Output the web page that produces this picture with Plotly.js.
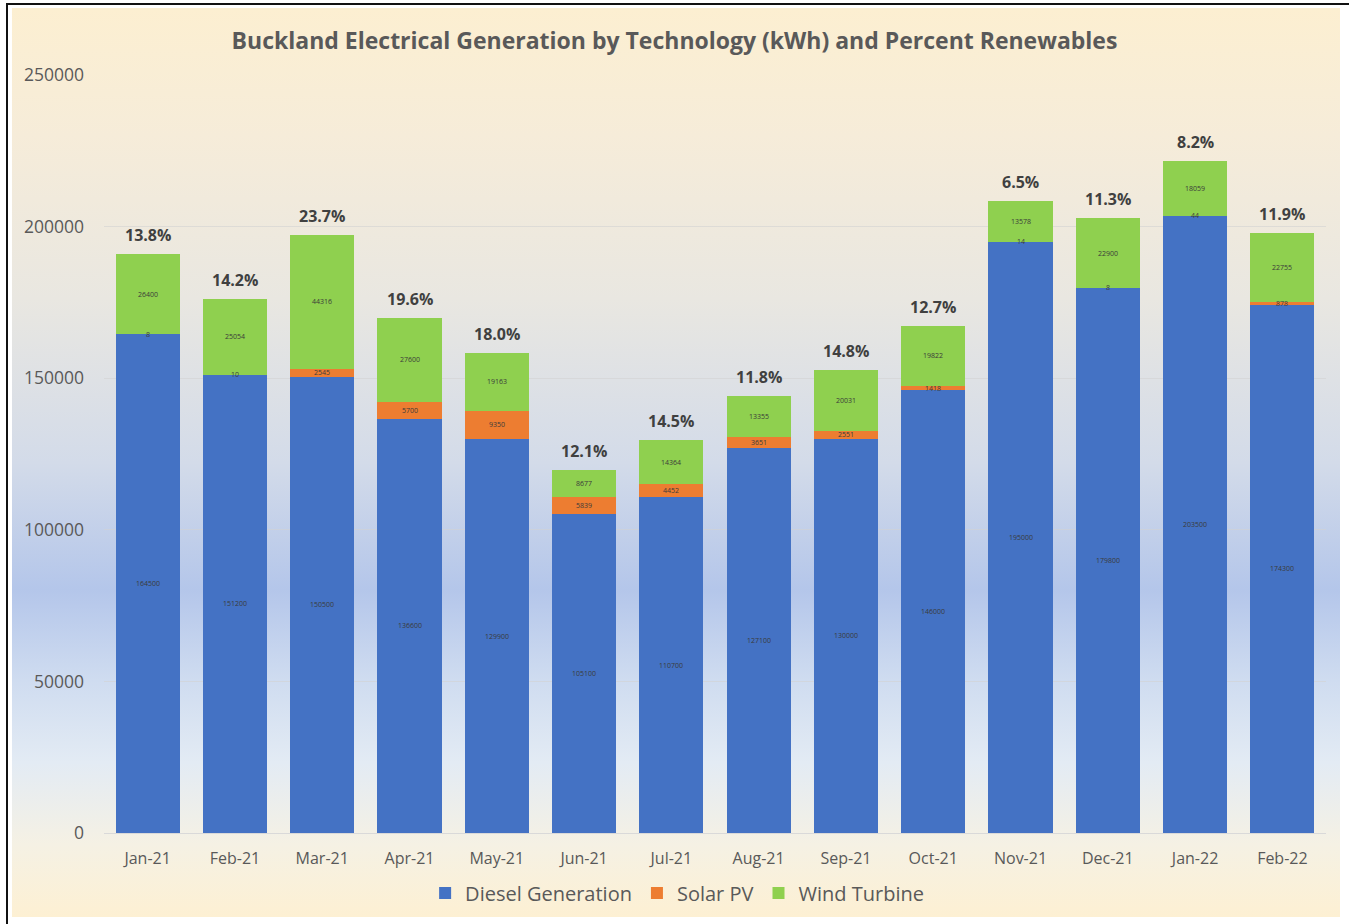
<!DOCTYPE html>
<html>
<head>
<meta charset="utf-8">
<script src="https://cdn.plot.ly/plotly-3.0.1.min.js"></script>
<style>
  html, body { margin: 0; padding: 0; background: #ffffff; }
  #frame { position: absolute; left: 6px; top: 3px; width: 1343px; height: 921px;
           border-left: 2px solid #111; border-top: 2px solid #111; box-sizing: border-box; }
  #bg { position: absolute; left: 12px; top: 8px; width: 1328px; height: 909px;
        background: linear-gradient(to bottom,
          #fcefd1 0%, #f6ecd9 14%, #e9e7e1 32%, #d3dbe9 50%,
          #b4c6ea 64%, #cfdcf0 74%, #e3ebf4 83%, #f5f1e4 92%, #fdf0d3 100%); }
  #chart { position: absolute; left: 0; top: 0; width: 1349px; height: 924px; }
</style>
</head>
<body>
<div id="frame"></div>
<div id="bg"></div>
<div id="chart"></div>
<script>
// Monthly generation by technology, kWh
const months = ['Jan-21', 'Feb-21', 'Mar-21', 'Apr-21', 'May-21', 'Jun-21', 'Jul-21',
                'Aug-21', 'Sep-21', 'Oct-21', 'Nov-21', 'Dec-21', 'Jan-22', 'Feb-22'];
const diesel = [164500, 151200, 150500, 136600, 129900, 105100, 110700,
                127100, 130000, 146000, 195000, 179800, 203500, 174300];
const solar  = [8, 10, 2545, 5700, 9350, 5839, 4452,
                3651, 2551, 1418, 14, 8, 44, 878];
const wind   = [26400, 25054, 44316, 27600, 19163, 8677, 14364,
                13355, 20031, 19822, 13578, 22900, 18059, 22755];

const yTicks = [0, 50000, 100000, 150000, 200000, 250000];

const colors = { diesel: '#4472c4', solar: '#ed7d31', wind: '#8fd04f' };
const textGrey = '#595959';
const fontFamily = '"Open Sans", "Noto Sans", sans-serif';

const series = [
  { name: 'Diesel Generation', values: diesel, color: colors.diesel },
  { name: 'Solar PV',          values: solar,  color: colors.solar },
  { name: 'Wind Turbine',      values: wind,   color: colors.wind }
];

const traces = series.map(s => ({
  type: 'bar',
  name: s.name,
  x: months,
  y: s.values,
  marker: { color: s.color },
  hoverinfo: 'x+y+name'
}));

// Segment value labels, centred in each stacked segment
const annotations = [];
months.forEach((m, i) => {
  let base = 0;
  series.forEach(s => {
    const v = s.values[i];
    annotations.push({
      x: m, y: base + v / 2, xref: 'x', yref: 'y',
      text: String(v), showarrow: false,
      font: { family: fontFamily, size: 7, color: '#3a3a3a' }
    });
    base += v;
  });
  // Share of renewables above each bar
  const total = diesel[i] + solar[i] + wind[i];
  const pct = (solar[i] + wind[i]) / total * 100;
  annotations.push({
    x: m, y: total, xref: 'x', yref: 'y',
    text: pct.toFixed(1) + '%', showarrow: false,
    yanchor: 'bottom', yshift: 6,
    font: { family: fontFamily, size: 16, color: '#404040', weight: 'bold' }
  });
});

const layout = {
  width: 1349,
  height: 924,
  paper_bgcolor: 'rgba(0,0,0,0)',
  plot_bgcolor: 'rgba(0,0,0,0)',
  margin: { l: 104, r: 23, t: 75, b: 91 },
  barmode: 'stack',
  bargap: 0.266,
  showlegend: true,
  title: {
    text: '<b>Buckland Electrical Generation by Technology (kWh) and Percent Renewables</b>',
    x: 0.5, xanchor: 'center',
    y: 1 - 41 / 924, yanchor: 'middle', yref: 'container',
    font: { family: fontFamily, size: 23, color: textGrey }
  },
  xaxis: {
    type: 'category',
    tickfont: { family: fontFamily, size: 16, color: textGrey },
    ticks: '',
    ticklabelstandoff: 11,
    showline: true, linecolor: '#d9d9d9', linewidth: 1,
    showgrid: false, fixedrange: true
  },
  yaxis: {
    range: [0, 250000],
    tickvals: yTicks,
    ticktext: yTicks.map(String),
    tickfont: { family: fontFamily, size: 17.5, color: textGrey },
    ticks: '',
    ticklabelstandoff: 19,
    showgrid: true, gridcolor: 'rgba(210,210,210,0.6)', gridwidth: 1,
    zeroline: false, showline: false, fixedrange: true
  },
  legend: {
    orientation: 'h',
    x: 0.469, xanchor: 'center',
    y: -0.079, yanchor: 'middle',
    font: { family: fontFamily, size: 20, color: textGrey },
    itemwidth: 30,
    traceorder: 'normal',
    bgcolor: 'rgba(0,0,0,0)'
  },
  annotations: annotations
};

Plotly.newPlot('chart', traces, layout, { displayModeBar: false, staticPlot: true });
</script>
</body>
</html>
